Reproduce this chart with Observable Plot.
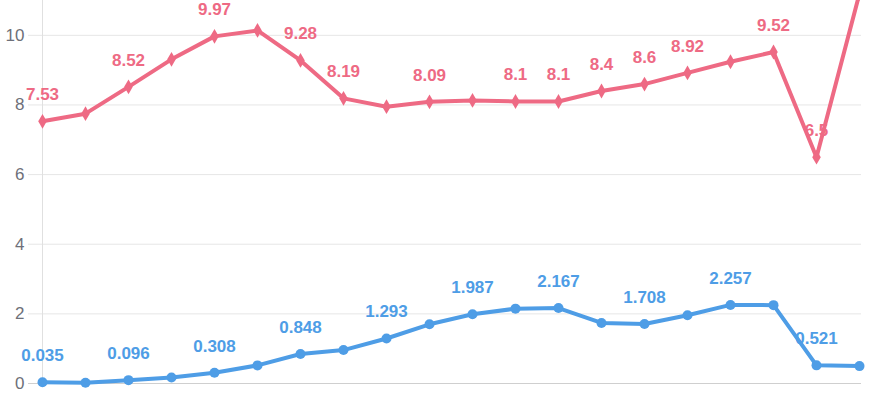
<!DOCTYPE html>
<html>
<head>
<meta charset="utf-8">
<script src="https://cdn.jsdelivr.net/npm/d3@7"></script>
<script src="https://cdn.jsdelivr.net/npm/@observablehq/plot@0.6"></script>
<style>
  html, body { margin: 0; padding: 0; background: #fff; }
  #chart svg { display: block; overflow: hidden; }
</style>
</head>
<body>
<div id="chart"></div>
<script>
// Categories (x-axis labels are cropped out of the reference)
const categories = ["1","2","3","4","5","6","7","8","9","10","11","12","13","14","15","16","17","18","19","20"];

// Series A (pink, diamonds)
const seriesA = [7.53, 7.75, 8.52, 9.31, 9.97, 10.14, 9.28, 8.19, 7.95, 8.09, 8.13, 8.1, 8.1, 8.4, 8.6, 8.92, 9.24, 9.52, 6.5, 11.2];
// which value labels are visible in the reference
const labelsA = [true, false, true, false, true, false, true, true, false, true, false, true, true, true, true, true, false, true, true, false];

// Series B (blue, circles)
const seriesB = [0.035, 0.02, 0.096, 0.17, 0.308, 0.52, 0.848, 0.96, 1.293, 1.7, 1.987, 2.15, 2.167, 1.74, 1.708, 1.96, 2.257, 2.25, 0.521, 0.5];
const labelsB = [true, false, true, false, true, false, true, false, true, false, true, false, true, false, true, false, true, false, true, false];

const yTicks = [0, 2, 4, 6, 8, 10];

const pink = "#ee6a84";
const blue = "#4e9de6";

const dataA = categories.map((c, i) => ({x: c, y: seriesA[i], show: labelsA[i]}));
const dataB = categories.map((c, i) => ({x: c, y: seriesB[i], show: labelsB[i]}));

const font = "'Liberation Sans', Arial, Helvetica, sans-serif";

const chart = Plot.plot({
  width: 880,
  height: 400,
  marginLeft: 40,
  marginRight: 19,
  marginTop: 0,
  marginBottom: 17,
  style: {fontFamily: font, background: "#fff"},
  x: {type: "point", domain: categories, padding: 0, axis: null},
  y: {domain: [0, 11], axis: null},
  marks: [
    Plot.ruleY(yTicks.filter(d => d > 0), {stroke: "#e6e6e6", strokeWidth: 1, insetLeft: -12}),
    Plot.ruleX([categories[0]], {stroke: "#e0e0e0", strokeWidth: 1}),
    Plot.ruleY([0], {stroke: "#cfcfcf", strokeWidth: 1, insetLeft: -12}),
    Plot.axisY(yTicks, {tickSize: 0, tickPadding: 16, fontSize: 17, color: "#6e7079", label: null, tickFormat: d => String(d)}),
    Plot.line(dataA, {x: "x", y: "y", stroke: pink, strokeWidth: 4, strokeLinejoin: "round"}),
    Plot.dot(dataA, {x: "x", y: "y", symbol: "diamond", r: 4.5, fill: pink, stroke: "none"}),
    Plot.line(dataB, {x: "x", y: "y", stroke: blue, strokeWidth: 4, strokeLinejoin: "round"}),
    Plot.dot(dataB, {x: "x", y: "y", symbol: "circle", r: 5, fill: blue, stroke: "none"}),
    Plot.text(dataA.filter(d => d.show), {x: "x", y: "y", text: d => String(d.y), dy: -21, lineAnchor: "bottom", fontSize: 17, fontWeight: "bold", fill: pink}),
    Plot.text(dataB.filter(d => d.show), {x: "x", y: "y", text: d => String(d.y), dy: -21, lineAnchor: "bottom", fontSize: 17, fontWeight: "bold", fill: blue})
  ]
});
document.getElementById("chart").appendChild(chart);
</script>
</body>
</html>
